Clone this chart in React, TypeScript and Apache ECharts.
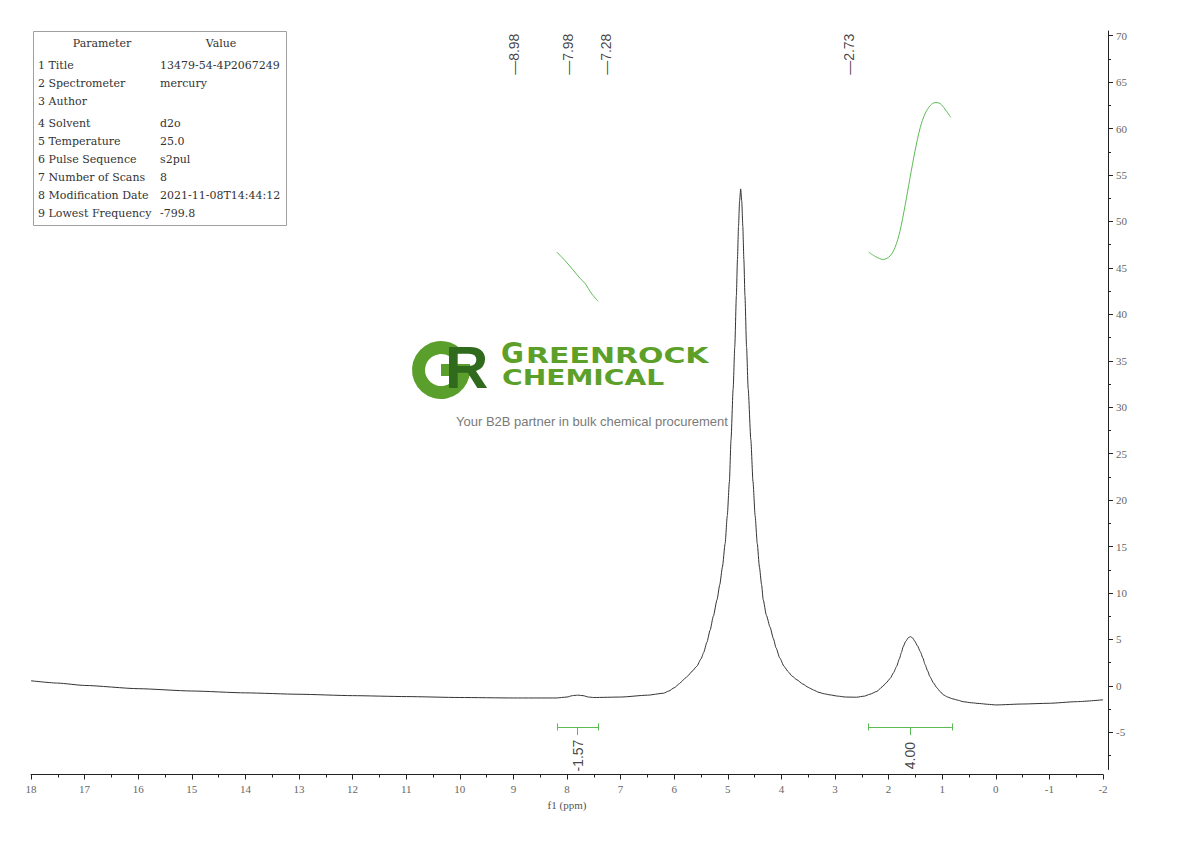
import { useEffect, useRef } from "react";
import * as echarts from "echarts";

// 1H NMR trace: chemical shift (ppm) and intensity
const shiftPpm = [
  18, 17.5, 17, 16, 15, 14, 13, 12, 11, 10, 9, 8.2, 8.0, 7.9, 7.8, 7.7, 7.6,
  7.5, 7.0, 6.5, 6.2, 6.1, 6.0, 5.9, 5.83, 5.75, 5.67, 5.58, 5.5, 5.45, 5.39,
  5.33, 5.27, 5.2, 5.15, 5.1, 5.05, 5.01, 4.97, 4.94, 4.9, 4.87, 4.84, 4.82,
  4.8, 4.78, 4.76, 4.74, 4.72, 4.7, 4.68, 4.65, 4.62, 4.57, 4.53, 4.49, 4.45,
  4.41, 4.37, 4.34, 4.28, 4.21, 4.15, 4.1, 4.03, 3.95, 3.87, 3.8, 3.71, 3.6,
  3.5, 3.45, 3.4, 3.3, 3.2, 3.09, 2.95, 2.8, 2.6, 2.45, 2.35, 2.22, 2.12, 2.05,
  1.97, 1.91, 1.85, 1.8, 1.76, 1.73, 1.68, 1.63, 1.59, 1.55, 1.51, 1.46, 1.41,
  1.36, 1.32, 1.27, 1.23, 1.16, 1.1, 1.04, 0.98, 0.9, 0.8, 0.7, 0.61, 0.45,
  0.3, 0.15, 0, -0.5, -1, -1.5, -2,
];
const intensity = [
  0.55, 0.3, 0.05, -0.3, -0.55, -0.75, -0.9, -1.05, -1.15, -1.25, -1.3, -1.3,
  -1.2, -1.05, -1.0, -1.05, -1.2, -1.25, -1.2, -1.0, -0.79, -0.55, -0.2, 0.25,
  0.65, 1.05, 1.55, 2.1, 2.9, 3.6, 4.7, 6.0, 7.5, 9.3, 10.9, 12.8, 15.3, 18.3,
  22.0, 26.5, 32.0, 36.5, 42.0, 45.9, 49.5, 52.2, 53.5, 52.2, 49.5, 45.9, 42.0,
  36.5, 32.0, 26.5, 22.0, 18.3, 15.3, 12.8, 10.9, 9.3, 7.6, 6.3, 5.1, 4.1, 3.0,
  2.1, 1.5, 1.05, 0.65, 0.2, -0.15, -0.3, -0.45, -0.7, -0.85, -0.97, -1.1,
  -1.2, -1.22, -1.1, -0.9, -0.6, -0.1, 0.3, 0.8, 1.4, 2.1, 2.9, 3.6, 4.2, 4.8,
  5.2, 5.3, 5.15, 4.8, 4.3, 3.7, 3.0, 2.3, 1.6, 1.0, 0.3, -0.2, -0.6, -0.95,
  -1.2, -1.4, -1.55, -1.7, -1.82, -1.9, -1.98, -2.05, -1.95, -1.87, -1.7, -1.5,
];

// integral curves (drawn on the same scale)
const integral1Ppm = [8.19, 8.04, 7.89, 7.76, 7.66, 7.55, 7.42];
const integral1Val = [46.7, 45.8, 44.8, 43.9, 43.3, 42.3, 41.4];
const integral2Ppm = [
  2.37, 2.24, 2.1, 1.97, 1.88, 1.79, 1.69, 1.6, 1.51, 1.41, 1.32, 1.22, 1.13,
  1.04, 0.95, 0.84,
];
const integral2Val = [
  46.7, 46.2, 45.9, 46.3, 47.2, 48.9, 51.8, 54.7, 57.5, 60.1, 61.6, 62.5, 62.8,
  62.7, 62.1, 61.2,
];

// integration ranges and values
const integFrom = [8.18, 2.38];
const integTo = [7.42, 0.82];
const integCenter = [7.8, 1.6];
const integValue = [-1.57, 4.0];

// peak picks
const peakShifts = [8.98, 7.98, 7.28, 2.73];

// axis ticks
const yMajorTicks = [-5, 0, 5, 10, 15, 20, 25, 30, 35, 40, 45, 50, 55, 60, 65, 70];
const yMinorTicks = [-7.5, -2.5, 2.5, 7.5, 12.5, 17.5, 22.5, 27.5, 32.5, 37.5, 42.5, 47.5, 52.5, 57.5, 62.5, 67.5];

// parameter table
const paramNames = [
  "1 Title",
  "2 Spectrometer",
  "3 Author",
  "4 Solvent",
  "5 Temperature",
  "6 Pulse Sequence",
  "7 Number of Scans",
  "8 Modification Date",
  "9 Lowest Frequency",
];
const paramValues = [
  "13479-54-4P2067249",
  "mercury",
  "",
  "d2o",
  "25.0",
  "s2pul",
  "8",
  "2021-11-08T14:44:12",
  "-799.8",
];
const rowY = [65, 83, 101, 123, 141, 159, 177, 195, 213];

const SERIF = '"Liberation Serif", "DejaVu Serif", serif';
const TABLE_FONT = '"DejaVu Serif", serif';
const SANS = '"Liberation Sans", Arial, sans-serif';
const GREEN = "#5dbb55";
const AXIS = "#222";
const LOGO_LIGHT = "#5a9f2b";
const LOGO_DARK = "#2f6a1d";

export default function App() {
  const chartRef = useRef<HTMLDivElement>(null);

  useEffect(() => {
    if (!chartRef.current) return;
    const chart = echarts.init(chartRef.current, undefined, { renderer: "svg" });

    const barY = -4.42;
    const capHalf = 0.38;
    const stemBottom = -5.3;
    const segments: number[][][] = [];
    integFrom.forEach((from, i) => {
      const to = integTo[i];
      const c = integCenter[i];
      segments.push([[from, barY], [to, barY]]);
      segments.push([[from, barY + capHalf], [from, barY - capHalf]]);
      segments.push([[to, barY + capHalf], [to, barY - capHalf]]);
      segments.push([[c, barY], [c, stemBottom]]);
    });

    const tableGraphics: any[] = [
      {
        type: "rect",
        shape: { x: 33.5, y: 31.5, width: 253, height: 194 },
        style: { fill: "#fff", stroke: "#a0a0a0", lineWidth: 1 },
        z: 10,
      },
      {
        type: "text",
        x: 102,
        y: 43,
        z: 11,
        style: { text: "Parameter", font: `11px ${TABLE_FONT}`, fill: "#333", align: "center", verticalAlign: "middle" },
      },
      {
        type: "text",
        x: 221,
        y: 43,
        z: 11,
        style: { text: "Value", font: `11px ${TABLE_FONT}`, fill: "#333", align: "center", verticalAlign: "middle" },
      },
    ];
    paramNames.forEach((name, i) => {
      tableGraphics.push({
        type: "text",
        x: 38,
        y: rowY[i],
        z: 11,
        style: { text: name, font: `11px ${TABLE_FONT}`, fill: "#333", align: "left", verticalAlign: "middle" },
      });
      if (paramValues[i]) {
        tableGraphics.push({
          type: "text",
          x: 160,
          y: rowY[i],
          z: 11,
          style: { text: paramValues[i], font: `11px ${TABLE_FONT}`, fill: "#333", align: "left", verticalAlign: "middle" },
        });
      }
    });

    // watermark logo: ring-shaped G, dark R, company name and tagline
    const logo: any[] = [
      {
        type: "sector",
        shape: { cx: 441, cy: 370, r: 29, r0: 16, startAngle: 0, endAngle: (7 * Math.PI) / 4, clockwise: true },
        style: { fill: LOGO_LIGHT },
        z: 0,
      },
      {
        type: "rect",
        shape: { x: 441, y: 364, width: 29, height: 12 },
        style: { fill: LOGO_LIGHT },
        z: 0,
      },
      {
        type: "text",
        x: 445,
        y: 367,
        z: 1,
        style: { text: "R", font: `bold 60px ${SANS}`, fill: LOGO_DARK, align: "left", verticalAlign: "middle" },
      },
      {
        type: "text",
        x: 501,
        y: 353,
        z: 0,
        style: { text: "G", font: 'bold 28px "DejaVu Sans", sans-serif', fill: "#5c9f29", align: "left", verticalAlign: "middle" },
      },
      {
        type: "text",
        x: 526,
        y: 355.5,
        scaleX: 1.46,
        z: 0,
        style: { text: "REENROCK", font: 'bold 20.5px "DejaVu Sans", sans-serif', fill: "#5c9f29", align: "left", verticalAlign: "middle" },
      },
      {
        type: "text",
        x: 502,
        y: 378,
        scaleX: 1.34,
        z: 0,
        style: { text: "CHEMICAL", font: 'bold 21px "DejaVu Sans", sans-serif', fill: "#5c9f29", align: "left", verticalAlign: "middle" },
      },
      {
        type: "text",
        x: 456,
        y: 421,
        z: 0,
        style: {
          text: "Your B2B partner in bulk chemical procurement",
          font: `13px ${SANS}`,
          fill: "#7a7a7a",
          align: "left",
          verticalAlign: "middle",
        },
      },
    ];

    const yAxisBase = {
      type: "value" as const,
      position: "right" as const,
      min: -9,
      max: 70.5,
      offset: 5,
      splitLine: { show: false },
    };

    chart.setOption({
      animation: false,
      grid: { left: 31, right: 87, top: 31, bottom: 71.5 },
      graphic: [...logo, ...tableGraphics],
      xAxis: {
        type: "value",
        min: -2,
        max: 18,
        interval: 1,
        inverse: true,
        offset: 5,
        name: "f1 (ppm)",
        nameLocation: "middle",
        nameGap: 21,
        nameTextStyle: { fontFamily: SERIF, fontSize: 11, color: "#555" },
        axisLine: { onZero: false, lineStyle: { color: AXIS, width: 1 } },
        axisTick: { length: 5, lineStyle: { color: AXIS } },
        minorTick: { show: true, splitNumber: 2, length: 3, lineStyle: { color: AXIS } },
        axisLabel: { fontFamily: SERIF, fontSize: 11, color: "#666", margin: 9, showMinLabel: true, showMaxLabel: true },
        splitLine: { show: false },
      },
      yAxis: [
        {
          ...yAxisBase,
          axisLine: { show: true, onZero: false, lineStyle: { color: AXIS, width: 1 } },
          axisTick: { show: true, length: 5, customValues: yMajorTicks, lineStyle: { color: AXIS } },
          axisLabel: { show: true, customValues: yMajorTicks, fontFamily: SERIF, fontSize: 11, color: "#666", margin: 8 },
        },
        {
          ...yAxisBase,
          axisLine: { show: false, onZero: false },
          axisTick: { show: true, length: 3, customValues: yMinorTicks, lineStyle: { color: AXIS } },
          axisLabel: { show: false },
        },
      ],
      series: [
        {
          type: "line",
          name: "spectrum",
          data: shiftPpm.map((p, i) => [p, intensity[i]]),
          showSymbol: false,
          smooth: 0.2,
          smoothMonotone: "x",
          lineStyle: { color: "#333", width: 1 },
          z: 3,
          silent: true,
        },
        {
          type: "line",
          name: "integral 1",
          data: integral1Ppm.map((p, i) => [p, integral1Val[i]]),
          showSymbol: false,
          smooth: 0.3,
          lineStyle: { color: GREEN, width: 1 },
          silent: true,
        },
        {
          type: "line",
          name: "integral 2",
          data: integral2Ppm.map((p, i) => [p, integral2Val[i]]),
          showSymbol: false,
          smooth: 0.3,
          lineStyle: { color: GREEN, width: 1 },
          silent: true,
        },
        {
          type: "lines",
          coordinateSystem: "cartesian2d",
          data: segments.map((coords) => ({ coords })),
          lineStyle: { color: GREEN, width: 1, opacity: 1 },
          silent: true,
        },
        {
          type: "scatter",
          name: "peaks",
          data: peakShifts.map((p) => [p, 68]),
          symbolSize: 1,
          itemStyle: { color: "rgba(0,0,0,0)" },
          label: {
            show: true,
            position: "inside",
            rotate: 90,
            formatter: (p: any) => "\u2014" + p.value[0].toFixed(2),
            fontFamily: SANS,
            fontSize: 14,
            color: "#111",
          },
          silent: true,
        },
        {
          type: "scatter",
          name: "integrals",
          data: integCenter.map((c, i) => ({ value: [c, -7.5], integ: integValue[i] })),
          symbolSize: 1,
          itemStyle: { color: "rgba(0,0,0,0)" },
          label: {
            show: true,
            position: "inside",
            rotate: 90,
            formatter: (p: any) => p.data.integ.toFixed(2),
            fontFamily: SANS,
            fontSize: 14,
            color: "#111",
          },
          silent: true,
        },
      ],
    });

    return () => chart.dispose();
  }, []);

  return (
    <div
      ref={chartRef}
      style={{ position: "absolute", left: 0, top: 0, width: 1190, height: 841, background: "#fff" }}
    />
  );
}
